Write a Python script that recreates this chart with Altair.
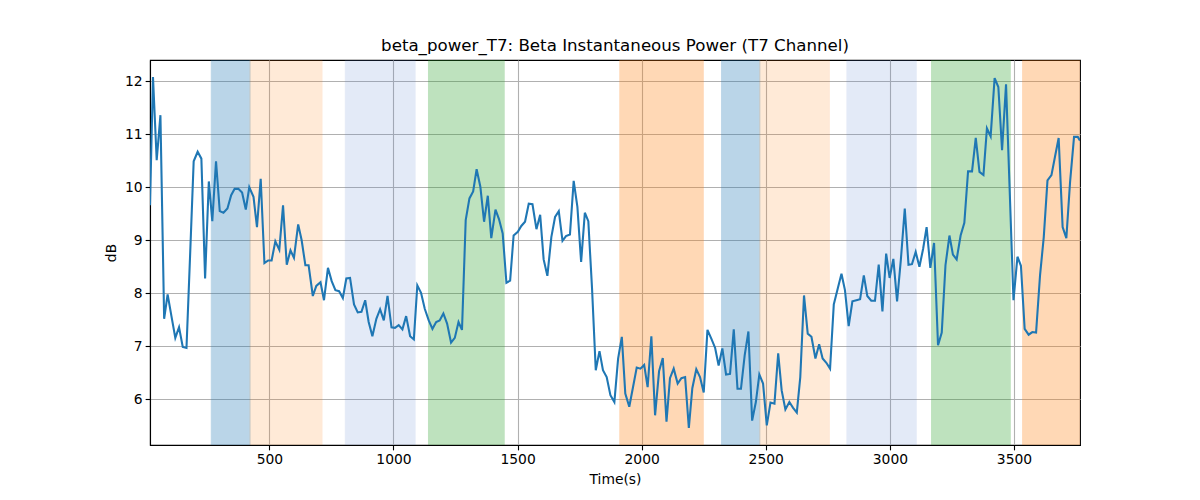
import altair as alt
import pandas as pd

# beta power trace (time in s, power in dB)
time_s = [
    19, 31, 46, 61, 76, 90, 105, 121, 136, 151, 166, 180, 195, 211, 226, 241, 256, 270, 285, 300,
    315, 331, 346, 360, 375, 390, 405, 419, 436, 450, 465, 480, 495, 509, 524, 540, 555, 570, 585, 599,
    616, 630, 645, 658, 675, 689, 706, 720, 736, 751, 766, 781, 796, 810, 825, 841, 856, 871, 886, 900,
    915, 931, 946, 961, 976, 992, 1006, 1021, 1036, 1051, 1067, 1082, 1096, 1111, 1126, 1142, 1157, 1172, 1186, 1201,
    1216, 1232, 1247, 1262, 1276, 1291, 1306, 1321, 1335, 1350, 1365, 1380, 1394, 1411, 1425, 1440, 1455, 1470, 1484, 1501,
    1515, 1530, 1545, 1560, 1576, 1591, 1605, 1620, 1636, 1651, 1666, 1681, 1695, 1711, 1726, 1741, 1756, 1771, 1785, 1800,
    1815, 1830, 1844, 1859, 1874, 1890, 1905, 1920, 1934, 1950, 1965, 1980, 1995, 2010, 2024, 2039, 2054, 2070, 2085, 2100,
    2114, 2129, 2145, 2160, 2175, 2190, 2204, 2220, 2235, 2250, 2265, 2281, 2296, 2310, 2325, 2340, 2356, 2371, 2386, 2400,
    2415, 2430, 2445, 2460, 2474, 2489, 2504, 2519, 2535, 2550, 2564, 2579, 2595, 2610, 2625, 2639, 2654, 2669, 2684, 2700,
    2715, 2729, 2744, 2759, 2774, 2790, 2805, 2819, 2834, 2849, 2865, 2880, 2895, 2909, 2925, 2940, 2955, 2970, 2985, 2999,
    3014, 3029, 3044, 3060, 3075, 3089, 3104, 3119, 3134, 3148, 3163, 3178, 3194, 3209, 3224, 3240, 3254, 3269, 3285, 3300,
    3315, 3331, 3346, 3361, 3377, 3391, 3406, 3422, 3437, 3452, 3468, 3483, 3498, 3514, 3528, 3543, 3559, 3574, 3589, 3605,
    3620, 3635, 3651, 3665, 3680, 3696, 3711, 3726, 3742, 3757, 3766,
]
power_db = [
    9.66, 12.08, 10.51, 11.36, 7.52, 7.98, 7.58, 7.16, 7.36, 6.99, 6.97, 8.65, 10.49, 10.67, 10.54, 8.28, 10.11, 9.36, 10.49, 9.55,
    9.52, 9.60, 9.85, 9.97, 9.97, 9.90, 9.58, 10.00, 9.82, 9.25, 10.16, 8.57, 8.62, 8.62, 8.98, 8.82, 9.66, 8.54, 8.81, 8.67,
    9.30, 9.00, 8.53, 8.53, 7.95, 8.14, 8.21, 7.87, 8.48, 8.23, 8.06, 8.04, 7.91, 8.28, 8.29, 7.79, 7.64, 7.65, 7.87, 7.46,
    7.19, 7.52, 7.70, 7.49, 7.95, 7.36, 7.35, 7.40, 7.32, 7.57, 7.19, 7.13, 8.15, 8.01, 7.71, 7.49, 7.33, 7.46, 7.49, 7.62,
    7.43, 7.07, 7.16, 7.46, 7.31, 9.38, 9.79, 9.92, 10.34, 10.01, 9.35, 9.84, 9.04, 9.58, 9.40, 9.13, 8.20, 8.24, 9.09, 9.16,
    9.27, 9.35, 9.69, 9.68, 9.21, 9.48, 8.64, 8.33, 9.06, 9.44, 9.55, 8.99, 9.08, 9.11, 10.12, 9.63, 8.59, 9.52, 9.36, 8.09,
    6.55, 6.91, 6.55, 6.42, 6.08, 5.95, 6.77, 7.18, 6.11, 5.86, 6.23, 6.60, 6.58, 6.65, 6.23, 7.19, 5.70, 6.53, 6.78, 5.58,
    6.40, 6.58, 6.30, 6.40, 6.42, 5.46, 6.21, 6.57, 6.42, 6.13, 7.31, 7.14, 6.97, 6.64, 6.96, 6.47, 6.48, 7.32, 6.20, 6.20,
    6.83, 7.28, 5.60, 5.95, 6.47, 6.30, 5.51, 5.94, 5.92, 6.87, 6.17, 5.81, 5.95, 5.84, 5.75, 6.42, 7.96, 7.24, 7.18, 6.77,
    7.04, 6.77, 6.69, 6.58, 7.79, 8.09, 8.37, 8.06, 7.38, 7.85, 7.87, 7.89, 8.34, 7.95, 7.86, 7.86, 8.54, 7.66, 8.75, 8.29,
    8.65, 7.85, 8.62, 9.60, 8.54, 8.55, 8.78, 8.50, 8.84, 9.25, 8.48, 8.95, 7.02, 7.26, 8.53, 9.09, 8.73, 8.64, 9.09, 9.33,
    10.30, 10.30, 10.93, 10.29, 10.23, 11.11, 10.96, 12.06, 11.89, 10.70, 11.94, 9.90, 7.87, 8.69, 8.52, 7.33, 7.22, 7.27, 7.26, 8.34,
    9.06, 10.13, 10.23, 10.57, 10.93, 9.25, 9.04, 10.10, 10.95, 10.95, 10.88,
]

# shaded periods
band_start = [266, 422, 806, 1141, 1912, 2322, 2476, 2827, 3168, 3535]
band_end = [422, 712, 1087, 1446, 2248, 2476, 2756, 3106, 3485, 3766]
band_kind = ["blue", "light orange", "light blue", "green", "orange",
             "blue", "light orange", "light blue", "green", "orange"]

kinds = ["blue", "light orange", "light blue", "green", "orange"]
kind_colors = ["#1f77b4", "#ff7f0e", "#5a80d0", "#2ca02c", "#ff7f0e"]
kind_alpha = [0.3, 0.16, 0.16, 0.3, 0.3]

trace = pd.DataFrame({"time": time_s, "db": power_db})
alpha_of = dict(zip(kinds, kind_alpha))
bands_df = pd.DataFrame({"start": band_start, "end": band_end, "kind": band_kind})
bands_df["alpha"] = bands_df["kind"].map(alpha_of)

FONT = "DejaVu Sans"
x_scale = alt.Scale(domain=[19, 3766], nice=False, zero=False)
y_scale = alt.Scale(domain=[5.14, 12.40], nice=False, zero=False)
col_scale = alt.Scale(domain=kinds, range=kind_colors)

bands = alt.Chart(bands_df).mark_rect(strokeWidth=1, clip=True).encode(
    x=alt.X("start:Q", scale=x_scale),
    x2="end:Q",
    fill=alt.Fill("kind:N", scale=col_scale, legend=None),
    stroke=alt.Stroke("kind:N", scale=col_scale, legend=None),
    opacity=alt.Opacity("alpha:Q", scale=None),
)

line = alt.Chart(trace).mark_line(color="#1f77b4", strokeWidth=2.08, clip=True).encode(
    x=alt.X("time:Q", scale=x_scale,
            axis=alt.Axis(title="Time(s)", values=[500, 1000, 1500, 2000, 2500, 3000, 3500],
                          format="d", titlePadding=6)),
    y=alt.Y("db:Q", scale=y_scale,
            axis=alt.Axis(title="dB", values=[6, 7, 8, 9, 10, 11, 12], titlePadding=6)),
)

chart = alt.layer(bands, line).properties(
    width=930,
    height=385,
    autosize=alt.AutoSizeParams(type="none"),
    padding={"left": 142, "top": 52, "right": 112, "bottom": 47},
    title=alt.TitleParams("beta_power_T7: Beta Instantaneous Power (T7 Channel)",
                          font=FONT, fontSize=16.67, fontWeight="normal", color="black",
                          anchor="middle", baseline="alphabetic", offset=8, dy=16),
).configure_axis(
    labelFont=FONT, labelFontSize=13.89, labelColor="black", labelPadding=3,
    titleFont=FONT, titleFontSize=13.89, titleFontWeight="normal", titleColor="black",
    domainColor="black", domainWidth=1.11,
    tickColor="black", tickWidth=1.11, tickSize=4.86,
    gridColor="#b0b0b0", gridWidth=1.11,
).configure_view(stroke="black", strokeWidth=1.11)

chart.save("out.html", embed_options={"renderer": "svg", "actions": False})
